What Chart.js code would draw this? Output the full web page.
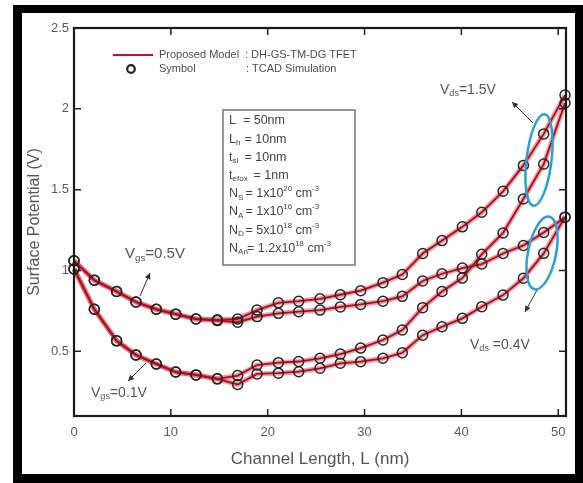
<!DOCTYPE html>
<html><head><meta charset="utf-8">
<script src="https://cdn.jsdelivr.net/npm/chart.js@4/dist/chart.umd.min.js"></script>
<style>html,body{margin:0;padding:0;background:#fff}#wrap{width:583px;height:483px}</style>
</head><body><div id="wrap"><canvas id="c" width="583" height="483"></canvas></div>
<script>
// Channel position (nm)
const channelX = [0, 2.1, 4.4, 6.4, 8.5, 10.5, 12.6, 14.8, 16.9, 18.9, 21.1, 23.2, 25.4, 27.5, 29.6, 31.9, 33.9, 36.0, 38.0, 40.1, 42.1, 44.3, 46.4, 48.5, 50.7];
// Surface potential (V)
const vgs05_vds15 = [1.06, 0.94, 0.87, 0.805, 0.76, 0.73, 0.70, 0.695, 0.70, 0.755, 0.80, 0.81, 0.825, 0.85, 0.875, 0.925, 0.975, 1.105, 1.185, 1.27, 1.36, 1.49, 1.65, 1.845, 2.085];
const vgs05_vds04 = [1.06, 0.94, 0.87, 0.805, 0.76, 0.73, 0.70, 0.69, 0.68, 0.715, 0.735, 0.745, 0.755, 0.775, 0.79, 0.81, 0.84, 0.935, 0.98, 1.015, 1.04, 1.105, 1.155, 1.235, 1.33];
const vgs01_vds15 = [1.01, 0.76, 0.565, 0.477, 0.422, 0.372, 0.354, 0.33, 0.35, 0.415, 0.43, 0.437, 0.457, 0.483, 0.52, 0.57, 0.632, 0.77, 0.87, 0.953, 1.10, 1.232, 1.442, 1.658, 2.036];
const vgs01_vds04 = [1.01, 0.76, 0.565, 0.477, 0.422, 0.372, 0.354, 0.33, 0.295, 0.36, 0.365, 0.374, 0.395, 0.426, 0.436, 0.457, 0.491, 0.60, 0.652, 0.704, 0.776, 0.848, 0.952, 1.106, 1.33];
const xTicks = [0, 10, 20, 30, 40, 50];
const yTicks = [0.5, 1, 1.5, 2, 2.5];

const FONT = '"Liberation Sans", Arial, sans-serif';
const series = [vgs05_vds15, vgs05_vds04, vgs01_vds15, vgs01_vds04];
const pts = arr => channelX.map((x, i) => ({x: x, y: arr[i]}));

const datasets = [];
series.forEach(s => datasets.push({data: pts(s), showLine: false, pointRadius: 5, pointBorderWidth: 1.5,
  pointBorderColor: '#262626', pointBackgroundColor: 'rgba(0,0,0,0)', order: 0, clip: false}));
series.forEach(s => datasets.push({data: pts(s), showLine: true, pointRadius: 0, borderWidth: 1.8,
  borderColor: '#a80f1c', tension: 0, order: 1, clip: false}));
series.forEach(s => datasets.push({data: pts(s), showLine: true, pointRadius: 0, borderWidth: 5,
  borderColor: 'rgba(226,40,60,0.45)', tension: 0, order: 2, clip: false}));

function rich(ctx, x, y, segs, size, color) {
  ctx.fillStyle = color; ctx.textBaseline = 'middle'; ctx.textAlign = 'left';
  let cx = x;
  for (const [t, k] of segs) {
    let fs = size, dy = 0;
    if (k === 'b') { fs = size * 0.65; dy = size * 0.28; }
    else if (k === 'p') { fs = size * 0.62; dy = -size * 0.38; }
    ctx.font = fs + 'px ' + FONT;
    ctx.fillText(t, cx, y + dy);
    cx += ctx.measureText(t).width;
  }
}
function arrow(ctx, x1, y1, x2, y2) {
  ctx.strokeStyle = '#333'; ctx.fillStyle = '#333'; ctx.lineWidth = 1;
  ctx.beginPath(); ctx.moveTo(x1, y1); ctx.lineTo(x2, y2); ctx.stroke();
  const a = Math.atan2(y2 - y1, x2 - x1), L = 6, W = 3;
  ctx.beginPath(); ctx.moveTo(x2, y2);
  ctx.lineTo(x2 - L * Math.cos(a) + W * Math.sin(a), y2 - L * Math.sin(a) - W * Math.cos(a));
  ctx.lineTo(x2 - L * Math.cos(a) - W * Math.sin(a), y2 - L * Math.sin(a) + W * Math.cos(a));
  ctx.closePath(); ctx.fill();
}

const deco = {
  id: 'deco',
  beforeDraw(chart) {
    const ctx = chart.ctx;
    ctx.save();
    ctx.fillStyle = '#fff'; ctx.fillRect(0, 0, 583, 483);
    ctx.fillStyle = '#000'; ctx.fillRect(13, 5, 570, 478);
    ctx.fillStyle = '#fff'; ctx.fillRect(22, 13, 553, 461);
    ctx.restore();
  },
  afterDraw(chart) {
    const ctx = chart.ctx, a = chart.chartArea, xs = chart.scales.x, ys = chart.scales.y;
    ctx.save();
    // inward ticks
    ctx.strokeStyle = '#222'; ctx.lineWidth = 1.5;
    xTicks.forEach(v => { const p = xs.getPixelForValue(v); if (p <= a.left + 2 || p >= a.right - 2) return;
      ctx.beginPath(); ctx.moveTo(p, a.bottom); ctx.lineTo(p, a.bottom - 7); ctx.moveTo(p, a.top); ctx.lineTo(p, a.top + 7); ctx.stroke(); });
    yTicks.forEach(v => { const p = ys.getPixelForValue(v); if (p <= a.top + 2 || p >= a.bottom - 2) return;
      ctx.beginPath(); ctx.moveTo(a.left, p); ctx.lineTo(a.left + 7, p); ctx.moveTo(a.right, p); ctx.lineTo(a.right - 7, p); ctx.stroke(); });
    // plot frame
    ctx.strokeStyle = '#1a1a1a'; ctx.lineWidth = 2.2;
    ctx.strokeRect(a.left, a.top, a.right - a.left, a.bottom - a.top);
    // legend
    ctx.strokeStyle = '#c8102e'; ctx.lineWidth = 2;
    ctx.beginPath(); ctx.moveTo(113, 55); ctx.lineTo(153, 55); ctx.stroke();
    ctx.strokeStyle = '#222'; ctx.lineWidth = 2.2;
    ctx.beginPath(); ctx.arc(131, 69, 3.8, 0, Math.PI * 2); ctx.stroke();
    ctx.fillStyle = '#4d4d4d'; ctx.font = '11px ' + FONT; ctx.textBaseline = 'middle'; ctx.textAlign = 'left';
    ctx.fillText('Proposed Model', 159, 55); ctx.fillText(': DH-GS-TM-DG TFET', 245, 55);
    ctx.fillText('Symbol', 159, 69); ctx.fillText(': TCAD Simulation', 246, 69);
    // parameter box
    ctx.strokeStyle = '#777'; ctx.lineWidth = 1.5;
    ctx.strokeRect(223, 110, 132, 155);
    const rows = [
      [[['L', '']], [['  = 50nm', '']], 236],
      [[['L', ''], ['h', 'b']], [[' = 10nm', '']], 241],
      [[['t', ''], ['si', 'b']], [[' = 10nm', '']], 241],
      [[['t', ''], ['efox', 'b']], [[' = 1nm', '']], 250],
      [[['N', ''], ['S', 'b']], [[' = 1x10', ''], ['20', 'p'], [' cm', ''], ['-3', 'p']], 242],
      [[['N', ''], ['A', 'b']], [[' = 1x10', ''], ['16', 'p'], [' cm', ''], ['-3', 'p']], 242],
      [[['N', ''], ['D', 'b']], [[' = 5x10', ''], ['18', 'p'], [' cm', ''], ['-3', 'p']], 242],
      [[['N', ''], ['An', 'b']], [['= 1.2x10', ''], ['18', 'p'], [' cm', ''], ['-3', 'p']], 247]
    ];
    rows.forEach((r, i) => {
      const y = 121 + i * 18.2;
      rich(ctx, 229, y, r[0], 12.5, '#444');
      rich(ctx, r[2], y, r[1], 12.5, '#444');
    });
    // curve labels
    rich(ctx, 125, 254, [['V', ''], ['gs', 'b'], ['=0.5V', '']], 15, '#555');
    rich(ctx, 91, 393, [['V', ''], ['gs', 'b'], ['=0.1V', '']], 14, '#555');
    rich(ctx, 440, 90, [['V', ''], ['ds', 'b'], ['=1.5V', '']], 14, '#555');
    rich(ctx, 470, 345, [['V', ''], ['ds', 'b'], [' =0.4V', '']], 14, '#555');
    arrow(ctx, 140, 296, 150, 273);
    arrow(ctx, 146, 363, 128, 381);
    arrow(ctx, 533, 123, 512, 102);
    arrow(ctx, 537, 290, 525, 312);
    // ellipses
    ctx.strokeStyle = '#2c9fd3'; ctx.lineWidth = 2.5;
    ctx.beginPath(); ctx.ellipse(539, 160, 12.5, 46, 0.12, 0, Math.PI * 2); ctx.stroke();
    ctx.beginPath(); ctx.ellipse(542, 253, 14, 37, 0.2, 0, Math.PI * 2); ctx.stroke();
    ctx.restore();
  }
};

new Chart(document.getElementById('c'), {
  type: 'scatter',
  data: {datasets: datasets},
  plugins: [deco],
  options: {
    responsive: false, animation: false, devicePixelRatio: 1,
    layout: {padding: {top: 28, right: 17, left: 0, bottom: 0}},
    plugins: {legend: {display: false}, tooltip: {enabled: false}},
    scales: {
      x: {type: 'linear', min: 0, max: 50.8,
        afterBuildTicks: s => { s.ticks = xTicks.map(v => ({value: v})); },
        afterFit: s => { s.height = 67; },
        grid: {display: false, drawTicks: false}, border: {display: false},
        ticks: {padding: 9, color: '#5a5a5a', font: {family: FONT, size: 13}, maxRotation: 0, autoSkip: false,
          callback: v => String(v)},
        title: {display: true, text: 'Channel Length, L (nm)', color: '#555', font: {family: FONT, size: 17}, padding: {top: 0, bottom: 13}}},
      y: {type: 'linear', min: 0.1, max: 2.5,
        afterBuildTicks: s => { s.ticks = yTicks.map(v => ({value: v})); },
        afterFit: s => { s.width = 74; },
        grid: {display: false, drawTicks: false}, border: {display: false},
        ticks: {padding: 5, color: '#5a5a5a', font: {family: FONT, size: 13}, autoSkip: false,
          callback: v => String(v)},
        title: {display: true, text: 'Surface Potential (V)', color: '#555', font: {family: FONT, size: 16}, padding: {top: 25, bottom: 0}}}
    }
  }
});
</script></body></html>
